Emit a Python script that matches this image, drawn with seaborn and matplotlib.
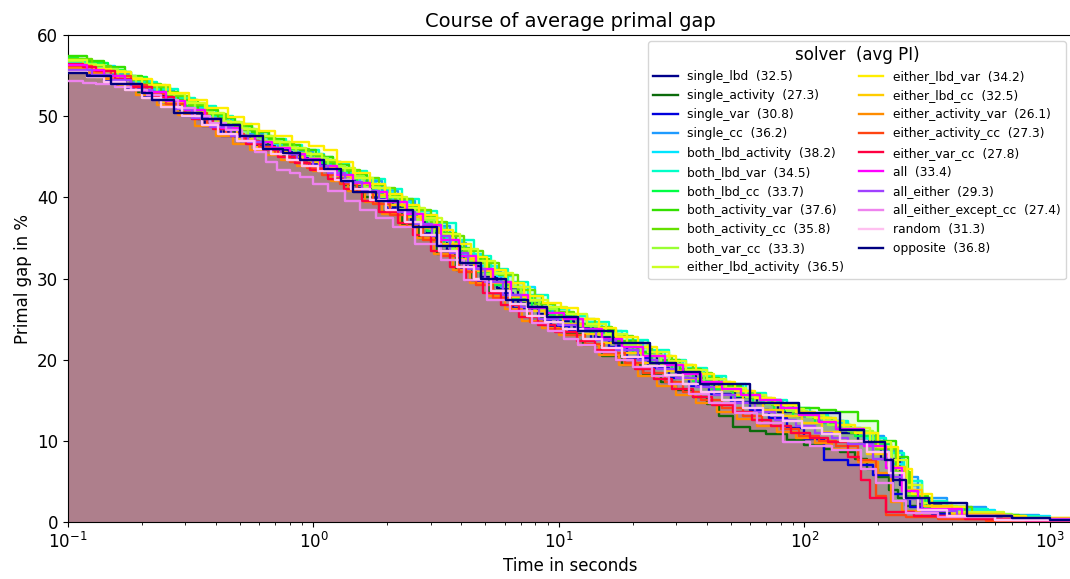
import numpy as np
import pandas as pd
import matplotlib
matplotlib.use("Agg")
import matplotlib.pyplot as plt
import seaborn as sns

plt.rcParams['font.family'] = ['DejaVu Sans']

names = ["single_lbd", "single_activity", "single_var", "single_cc",
         "both_lbd_activity", "both_lbd_var", "both_lbd_cc", "both_activity_var",
         "both_activity_cc", "both_var_cc", "either_lbd_activity", "either_lbd_var",
         "either_lbd_cc", "either_activity_var", "either_activity_cc", "either_var_cc",
         "all", "all_either", "all_either_except_cc", "random", "opposite"]
avg_pi = [32.5, 27.3, 30.8, 36.2, 38.2, 34.5, 33.7, 37.6, 35.8, 33.3, 36.5,
          34.2, 32.5, 26.1, 27.3, 27.8, 33.4, 29.3, 27.4, 31.3, 36.8]
colors = ["#00008b", "#0b6b0b", "#0000dd", "#1e9bff", "#00e5ff", "#00ffc8",
          "#00ff44", "#33e000", "#66e000", "#99ff33", "#ccff22", "#ffee00",
          "#ffcc00", "#ff8c00", "#ff4411", "#ff0040", "#ff00ff", "#a040ff",
          "#ee82ee", "#ffc0f0", "#000080"]

t_single_lbd = [0.1,0.12,0.14,0.17,0.21,0.25,0.3,0.36,0.43,0.5,0.58,0.68,0.8,0.92,1.05,1.25,1.5,1.8,2.1,2.5,2.9,3.5,4.1,4.8,5.6,6.8,8.2,9.8,11.5,14,17,21,25,30,36,43,52,64,78,95,115,140,165,205,245,290,360,520,850,1300]
g_single_lbd = [55.8,55.3,54.6,53.6,52.5,51.5,50.3,49.0,48.0,47.2,46.4,45.8,45.0,44.5,43.8,42.6,41.2,40.0,38.8,37.0,35.6,33.5,31.6,30.2,28.8,27.0,25.6,24.8,24.0,22.8,21.8,20.6,19.5,18.4,17.3,16.4,15.4,14.6,13.6,13.0,12.3,11.0,10.0,7.8,4.5,2.2,1.5,0.7,0.3,0.2]

t_single_activity = [0.1,0.115,0.13,0.16,0.19,0.23,0.28,0.34,0.4,0.47,0.55,0.65,0.75,0.87,1.0,1.15,1.35,1.6,1.9,2.3,2.7,3.2,3.8,4.4,5.2,6.3,7.5,9.0,10.5,12.5,15,18,22,26,30,35,40,45,51,60,70,85,100,120,140,160,180,200,220,240,260,320,450,800,1300]
g_single_activity = [56.0,55.6,55.0,54.0,53.0,52.0,50.8,49.6,48.6,47.6,46.8,46.0,45.2,44.6,44.0,43.0,41.5,40.0,38.2,36.6,35.0,33.0,31.0,29.8,28.5,26.8,25.2,24.2,23.2,21.8,20.5,19.4,18.2,17.2,16.3,15.4,14.5,13.0,11.7,11.2,10.8,10.1,9.5,9.0,8.6,7.8,6.5,5.5,4.0,3.0,2.0,1.2,0.5,0.2,0.1]

t_single_var = [0.1,0.12,0.14,0.17,0.2,0.24,0.29,0.35,0.42,0.5,0.6,0.7,0.82,0.95,1.1,1.3,1.5,1.75,2.0,2.4,2.8,3.3,3.9,4.6,5.4,6.5,7.8,9.3,11,13.5,16,19,23,28,34,41,50,60,72,85,100,120,150,190,230,270,330,480,800,1300]
g_single_var = [55.6,55.1,54.4,53.4,52.4,51.2,50.0,48.8,47.6,46.9,46.3,45.6,44.9,44.1,43.2,42.0,40.8,39.8,38.6,37.0,35.5,33.4,31.2,29.6,28.2,26.4,24.8,24.2,23.6,22.6,21.5,20.2,19.0,17.8,16.8,15.8,14.8,13.8,12.8,11.6,10.2,7.6,7.0,5.8,3.5,1.8,1.0,0.5,0.25,0.15]

t_single_cc = [0.1,0.125,0.15,0.18,0.22,0.27,0.32,0.38,0.46,0.54,0.62,0.72,0.85,1.0,1.15,1.35,1.6,1.9,2.2,2.6,3.0,3.6,4.2,5.0,5.8,7.0,8.5,10,12,14.5,17.5,21,26,31,38,46,55,66,80,98,120,145,170,210,250,290,380,550,900,1300]
g_single_cc = [56.4,55.8,55.2,54.2,53.2,52.0,51.0,49.8,48.8,47.8,47.0,46.3,45.6,44.8,44.0,43.0,42.0,40.8,39.5,38.0,36.5,34.4,32.5,30.8,29.0,27.4,26.0,25.0,24.2,23.2,22.2,21.0,19.8,18.8,17.8,16.6,15.6,14.8,13.9,13.2,12.5,11.6,10.6,8.8,5.5,3.0,1.9,0.9,0.4,0.25]

t_both_lbd_activity = [0.1,0.115,0.13,0.155,0.18,0.22,0.26,0.31,0.38,0.45,0.52,0.6,0.7,0.82,0.95,1.1,1.3,1.55,1.8,2.1,2.5,3.0,3.5,4.1,4.8,5.6,6.5,8.0,9.5,11,13,15,18,22,27,32,39,46,56,68,82,100,120,150,175,200,225,250,300,400,600,1000,1300]
g_both_lbd_activity = [57.0,56.7,56.2,55.4,54.4,53.3,52.2,51.0,50.0,49.1,48.3,47.4,46.6,46.0,45.4,44.4,43.0,41.8,40.6,39.4,38.0,36.2,34.6,33.0,31.5,30.3,29.0,26.8,26.2,25.5,24.5,23.5,22.2,21.0,19.8,18.8,17.8,16.8,15.8,14.8,13.8,13.0,12.2,11.2,10.2,9.0,7.2,5.0,2.4,1.5,0.7,0.3,0.2]

t_both_lbd_var = [0.1,0.13,0.16,0.19,0.23,0.28,0.33,0.4,0.47,0.56,0.65,0.77,0.9,1.05,1.2,1.4,1.65,1.95,2.3,2.7,3.2,3.8,4.5,5.3,6.2,7.5,9,11,13,16,19,23,28,33,40,48,58,70,85,105,125,150,175,215,255,300,380,560,900,1300]
g_both_lbd_var = [56.6,55.8,55.0,54.2,53.3,52.2,51.2,50.0,49.0,48.0,47.2,46.5,45.8,45.0,44.2,43.3,42.3,41.0,39.8,38.3,36.8,34.8,32.8,31.2,29.6,28.0,26.3,25.4,24.6,23.5,22.4,21.2,20.0,19.0,18.0,17.0,15.9,15.0,14.1,13.2,12.4,11.4,10.4,8.5,5.0,2.6,1.6,0.8,0.35,0.2]

t_both_lbd_cc = [0.1,0.11,0.12,0.145,0.17,0.21,0.25,0.3,0.36,0.43,0.5,0.58,0.68,0.8,0.92,1.08,1.25,1.5,1.75,2.05,2.4,2.9,3.4,4.0,4.6,5.4,6.4,7.8,9.2,11.2,13.5,16.5,20,24,29,35,42,51,62,75,90,110,135,160,185,225,265,310,420,650,1300]
g_both_lbd_cc = [57.2,56.9,56.5,55.7,54.8,53.6,52.5,51.3,50.2,49.3,48.4,47.6,46.8,46.0,45.2,44.2,43.2,41.8,40.4,39.1,37.8,35.8,34.0,32.4,30.8,29.2,27.6,26.4,25.5,24.4,23.4,22.0,20.8,19.6,18.6,17.4,16.4,15.5,14.6,13.8,13.0,12.2,11.5,10.6,9.6,6.0,3.0,1.8,0.9,0.4,0.2]

t_both_activity_var = [0.1,0.12,0.14,0.17,0.2,0.24,0.28,0.34,0.41,0.48,0.56,0.66,0.76,0.88,1.02,1.2,1.4,1.65,1.95,2.3,2.7,3.2,3.8,4.4,5.2,6.1,7.2,8.5,10,12,14,17,21,26,31,38,45,55,66,80,95,115,135,165,200,235,265,320,450,750,1300]
g_both_activity_var = [57.4,56.8,56.0,55.0,54.0,53.0,52.0,50.8,49.8,48.8,48.0,47.2,46.5,45.8,45.0,44.0,42.8,41.5,40.2,38.9,37.6,35.6,33.8,32.4,31.0,29.4,27.8,26.4,25.2,24.4,23.6,22.3,21.0,20.0,18.9,17.8,16.8,15.8,15.0,14.4,14.0,13.8,13.6,12.4,10.0,8.0,3.2,1.8,0.9,0.4,0.2]

t_both_activity_cc = [0.1,0.125,0.15,0.18,0.21,0.26,0.31,0.37,0.44,0.52,0.6,0.7,0.83,0.96,1.1,1.3,1.55,1.85,2.15,2.55,3.0,3.5,4.1,4.9,5.7,6.8,8.0,9.6,11.5,14,16.5,20,24,29,35,42,50,61,74,90,108,130,155,195,235,270,330,480,800,1300]
g_both_activity_cc = [57.0,56.2,55.4,54.5,53.6,52.5,51.4,50.3,49.2,48.3,47.4,46.7,46.0,45.2,44.4,43.4,42.4,41.1,39.8,38.4,37.0,35.2,33.4,31.9,30.4,28.6,26.8,25.9,25.0,24.0,22.9,21.6,20.4,19.4,18.4,17.3,16.2,15.3,14.4,13.6,12.8,11.9,11.0,9.0,6.2,3.0,1.8,0.8,0.35,0.2]

t_both_var_cc = [0.1,0.115,0.13,0.16,0.19,0.23,0.27,0.33,0.39,0.46,0.54,0.63,0.73,0.85,0.98,1.15,1.35,1.6,1.85,2.2,2.6,3.1,3.6,4.3,5.0,6.0,7.0,8.3,9.8,12,14.5,18,21.5,26,32,39,47,58,70,85,102,125,150,190,228,262,305,420,700,1300]
g_both_var_cc = [56.8,56.4,55.8,54.9,53.9,52.8,51.7,50.5,49.4,48.5,47.6,46.9,46.2,45.5,44.8,43.8,42.6,41.3,40.0,38.6,37.2,35.4,33.6,32.1,30.6,28.9,27.2,26.2,25.3,24.1,23.0,21.8,20.6,19.5,18.4,17.3,16.3,15.4,14.5,13.7,12.9,12.0,11.2,9.2,6.8,3.4,2.0,1.0,0.4,0.2]

t_either_lbd_activity = [0.1,0.12,0.14,0.17,0.2,0.25,0.3,0.36,0.43,0.51,0.59,0.69,0.8,0.93,1.08,1.25,1.48,1.75,2.05,2.4,2.85,3.35,3.95,4.7,5.5,6.5,7.6,9.0,10.8,13,15.5,19,23,28,33,40,48,58,70,84,100,120,145,185,225,262,300,400,650,1300]
g_either_lbd_activity = [56.9,56.3,55.6,54.7,53.8,52.7,51.6,50.4,49.3,48.4,47.6,46.8,46.1,45.4,44.6,43.6,42.4,41.2,40.0,38.7,37.4,35.5,33.6,32.1,30.7,29.0,27.4,26.5,25.6,24.4,23.2,22.0,20.9,19.8,18.7,17.6,16.5,15.6,14.7,13.9,13.2,12.4,11.6,9.8,7.6,4.5,2.4,1.2,0.5,0.2]

t_either_lbd_var = [0.1,0.125,0.15,0.18,0.22,0.26,0.31,0.37,0.45,0.52,0.6,0.7,0.82,0.96,1.1,1.25,1.45,1.7,1.95,2.3,2.7,3.2,3.7,4.4,5.1,6.1,7.2,8.6,10.2,12,14.5,17,21,25,30,36,43,52,63,76,92,110,135,160,200,240,275,330,460,800,1300]
g_either_lbd_var = [56.2,55.8,55.4,54.6,53.8,52.9,52.0,51.0,49.9,49.0,48.2,47.5,46.8,46.3,45.8,44.4,43.0,41.7,40.4,39.1,37.8,36.0,34.2,32.6,31.0,29.4,27.8,27.0,26.4,25.0,23.9,22.8,21.6,20.4,19.3,18.2,17.2,16.2,15.3,14.4,13.6,12.8,11.9,11.0,9.2,6.5,3.5,1.8,0.8,0.3,0.2]

t_either_lbd_cc = [0.1,0.115,0.13,0.16,0.2,0.24,0.29,0.35,0.41,0.49,0.57,0.67,0.78,0.91,1.05,1.22,1.42,1.7,2.0,2.35,2.75,3.25,3.85,4.5,5.3,6.3,7.4,8.8,10.4,12.5,15,18,22,27,32,38,46,56,68,82,98,118,140,180,220,258,300,400,650,1300]
g_either_lbd_cc = [56.0,55.4,54.8,53.8,52.9,51.8,50.8,49.6,48.4,47.2,46.2,45.6,45.0,44.3,43.6,42.6,41.6,40.3,39.0,37.6,36.2,34.3,32.4,30.9,29.4,27.7,26.0,25.2,24.4,23.2,22.0,20.8,19.6,18.6,17.6,16.6,15.6,14.7,13.8,13.0,12.2,11.1,10.0,8.4,6.8,4.0,2.0,1.0,0.45,0.2]

t_either_activity_var = [0.1,0.12,0.14,0.16,0.19,0.23,0.28,0.33,0.4,0.47,0.55,0.64,0.74,0.86,1.0,1.18,1.38,1.62,1.9,2.25,2.65,3.1,3.7,4.35,5.1,6.0,7.1,8.5,10,12,14.5,17.5,21,25,30,36,44,53,64,77,92,110,130,165,200,225,250,300,420,700,1300]
g_either_activity_var = [55.9,55.3,54.6,53.6,52.6,51.4,50.2,48.8,47.6,46.6,45.8,45.2,44.6,43.9,43.2,42.0,40.8,39.4,38.0,36.5,35.0,33.0,31.0,29.4,27.8,26.2,24.8,23.9,23.0,21.8,20.6,19.3,18.0,16.8,15.6,14.6,13.6,12.7,11.8,11.1,10.4,9.7,9.0,7.4,6.0,2.5,1.3,0.8,0.4,0.2,0.1]

t_either_activity_cc = [0.1,0.125,0.15,0.18,0.21,0.25,0.3,0.37,0.44,0.52,0.6,0.7,0.8,0.94,1.08,1.28,1.5,1.75,2.05,2.4,2.8,3.3,3.9,4.6,5.4,6.4,7.6,9.0,10.6,12.8,15.2,18.5,22,27,32,38,46,56,67,80,95,115,135,165,195,215,260,350,550,1300]
g_either_activity_cc = [56.2,55.6,54.9,53.8,52.7,51.5,50.4,49.0,47.8,46.9,46.2,45.3,44.4,43.6,42.8,41.7,40.6,39.2,37.8,36.3,34.8,32.8,30.8,29.2,27.6,26.0,24.6,23.8,23.0,21.9,20.8,19.6,18.4,17.2,16.0,15.0,14.0,13.1,12.2,11.4,10.6,10.0,9.4,7.6,3.2,0.9,0.6,0.35,0.15,0.1]

t_either_var_cc = [0.1,0.115,0.13,0.155,0.18,0.22,0.27,0.32,0.39,0.46,0.53,0.62,0.72,0.84,0.97,1.15,1.33,1.58,1.85,2.2,2.55,3.0,3.6,4.2,4.9,5.8,6.9,8.2,9.6,11.8,14,17,20.5,24.5,29,35,42,51,61,73,88,105,125,150,170,185,215,280,450,800,1300]
g_either_var_cc = [56.4,56.0,55.6,54.6,53.6,52.3,51.0,49.7,48.4,47.5,46.6,45.8,45.0,44.2,43.4,42.2,41.0,39.6,38.2,36.8,35.4,33.4,31.4,29.8,28.2,26.7,25.2,24.3,23.4,22.3,21.2,20.0,18.8,17.6,16.4,15.4,14.4,13.5,12.6,11.8,11.0,10.4,9.8,8.0,5.2,3.0,1.2,0.7,0.35,0.15,0.1]

t_all = [0.1,0.12,0.14,0.17,0.2,0.25,0.3,0.36,0.42,0.5,0.58,0.68,0.8,0.92,1.06,1.25,1.45,1.7,2.0,2.4,2.8,3.3,3.9,4.6,5.4,6.4,7.5,8.9,10.5,12.5,15,18,22,27,32,38,46,55,66,80,95,115,135,175,215,250,290,440,700,1300]
g_all = [56.3,55.7,55.0,54.0,53.0,51.9,50.8,49.6,48.6,47.6,46.8,46.1,45.4,44.7,43.9,42.8,41.8,40.6,39.4,38.0,36.6,34.7,32.8,31.2,29.6,28.0,26.4,25.7,25.0,23.8,22.6,21.5,20.4,19.3,18.2,17.3,16.4,15.7,15.0,14.1,13.2,12.3,11.4,9.4,6.6,3.8,1.6,0.8,0.35,0.2]

t_all_either = [0.1,0.125,0.15,0.18,0.22,0.27,0.32,0.38,0.46,0.54,0.63,0.74,0.86,1.0,1.15,1.35,1.58,1.85,2.2,2.6,3.05,3.6,4.25,5.0,5.9,7.0,8.3,9.9,11.8,14.2,17,21,25,30,36,43,52,63,76,92,110,130,150,190,225,255,300,420,700,1300]
g_all_either = [55.7,55.1,54.4,53.2,52.0,50.9,49.8,48.7,47.6,46.8,46.0,45.3,44.6,43.8,43.0,41.9,40.8,39.5,38.2,36.7,35.2,33.2,31.2,29.6,28.0,26.5,25.0,24.3,23.6,22.4,21.2,20.0,18.8,17.7,16.6,15.6,14.6,13.6,12.6,11.8,11.0,10.3,9.6,7.8,5.6,2.8,1.4,0.7,0.3,0.15]

t_all_either_except_cc = [0.1,0.115,0.13,0.155,0.18,0.21,0.24,0.28,0.33,0.38,0.44,0.51,0.58,0.64,0.71,0.8,0.88,1.0,1.15,1.35,1.55,1.8,2.1,2.6,3.3,4.1,5.1,6.3,7.8,9.0,10.5,12,14,17,20,24,28,34,41,52,64,82,105,130,170,195,230,260,350,600,1300]
g_all_either_except_cc = [54.3,54.1,54.0,53.6,53.2,52.6,52.0,51.0,50.0,49.2,48.3,47.0,45.6,44.4,43.4,43.0,42.5,41.6,40.8,39.6,38.4,37.4,36.4,34.2,32.3,29.8,27.3,26.0,24.5,23.5,22.6,21.8,21.0,20.0,19.1,18.0,17.0,15.8,14.7,13.4,12.2,9.9,9.4,8.9,6.5,4.8,2.6,1.1,0.6,0.25,0.1]

t_random = [0.1,0.12,0.14,0.17,0.2,0.24,0.29,0.35,0.41,0.49,0.57,0.67,0.78,0.9,1.04,1.22,1.42,1.7,1.98,2.35,2.75,3.25,3.85,4.5,5.3,6.3,7.4,8.8,10.4,12.5,15,18,22,27,32,38,46,56,68,82,98,118,140,180,220,255,290,380,600,1300]
g_random = [55.4,54.8,54.2,53.2,52.2,51.1,50.0,48.9,47.8,46.9,46.0,45.3,44.6,43.9,43.2,42.1,41.0,39.7,38.4,36.9,35.4,33.4,31.4,29.9,28.4,26.9,25.4,24.6,23.8,22.6,21.4,20.3,19.2,18.1,17.0,16.0,15.0,14.1,13.2,12.4,11.6,10.8,10.0,8.6,6.0,3.0,1.5,0.7,0.3,0.15]

t_opposite = [0.1, 0.12, 0.15, 0.2, 0.22, 0.27, 0.35, 0.42, 0.5, 0.62, 0.75, 0.88, 1.1, 1.3, 1.45, 1.8, 2.2, 2.54, 3.2, 3.95, 4.8, 6.1, 7.5, 8.9, 12, 16.6, 23.5, 30, 37.5, 60, 95, 140, 175, 212, 229, 260, 323, 460, 700, 1000, 1300]
g_opposite = [55.3, 54.9, 54.0, 52.8, 52.0, 50.4, 49.6, 48.9, 47.5, 46.0, 45.5, 44.6, 43.5, 42.0, 40.6, 39.5, 38.5, 36.3, 34.0, 31.9, 30.0, 27.3, 26.5, 25.3, 23.5, 22.0, 19.6, 18.5, 17.0, 14.7, 13.4, 11.3, 9.8, 7.6, 5.2, 3.0, 2.3, 0.8, 0.5, 0.3, 0.2]

times = [t_single_lbd, t_single_activity, t_single_var, t_single_cc,
         t_both_lbd_activity, t_both_lbd_var, t_both_lbd_cc, t_both_activity_var,
         t_both_activity_cc, t_both_var_cc, t_either_lbd_activity, t_either_lbd_var,
         t_either_lbd_cc, t_either_activity_var, t_either_activity_cc, t_either_var_cc,
         t_all, t_all_either, t_all_either_except_cc, t_random, t_opposite]
gaps = [g_single_lbd, g_single_activity, g_single_var, g_single_cc,
        g_both_lbd_activity, g_both_lbd_var, g_both_lbd_cc, g_both_activity_var,
        g_both_activity_cc, g_both_var_cc, g_either_lbd_activity, g_either_lbd_var,
        g_either_lbd_cc, g_either_activity_var, g_either_activity_cc, g_either_var_cc,
        g_all, g_all_either, g_all_either_except_cc, g_random, g_opposite]

frames = []
for n, t, g in zip(names, times, gaps):
    frames.append(pd.DataFrame({"time": t, "gap": g, "solver": n}))
df = pd.concat(frames, ignore_index=True)

fig = plt.figure(figsize=(10.7, 5.79), dpi=100)
ax = fig.add_axes([68 / 1070, 57 / 579, (1072 - 68) / 1070, (522 - 35) / 579])

for n, c in zip(names, colors):
    sub = df[df.solver == n]
    ax.fill_between(sub.time.values, sub.gap.values, 0, step="post",
                    color=c, alpha=0.11, linewidth=0, zorder=1)

for n, c, p in zip(names, colors, avg_pi):
    sub = df[df.solver == n]
    sns.lineplot(data=sub, x="time", y="gap", color=c, drawstyle="steps-post",
                 linewidth=1.7, ax=ax, label=f"{n}  ({p})", estimator=None,
                 sort=False, zorder=3)

ax.set_xscale("log")
ax.set_xlim(0.1, 1230)
ax.set_ylim(0, 60)
ax.set_yticks([0, 10, 20, 30, 40, 50, 60])
ax.tick_params(axis="both", labelsize=12)
ax.set_xlabel("Time in seconds", fontsize=12)
ax.set_ylabel("Primal gap in %", fontsize=12)
ax.set_title("Course of average primal gap", fontsize=14)

leg = ax.legend(loc="upper right", ncol=2, fontsize=8.8, title="solver  (avg PI)",
                title_fontsize=12, frameon=True, columnspacing=1.2,
                handlelength=2.0, handletextpad=0.8,
                borderaxespad=0.5, labelspacing=0.5)

fig.savefig("out.png", dpi=100)
